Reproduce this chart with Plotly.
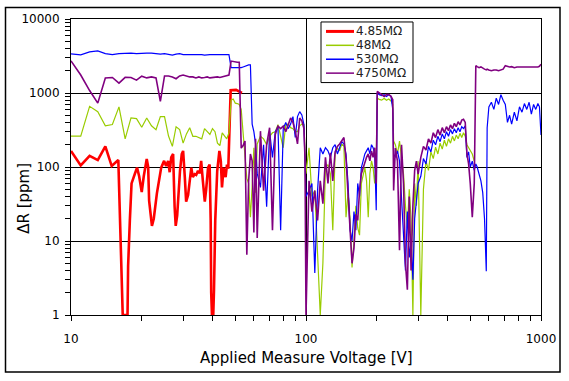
import plotly.graph_objects as go

# ---------------- data ----------------
series_names = ["4.85MΩ", "48MΩ", "530MΩ", "4750MΩ"]
series_colors = ["#FF0000", "#99CC00", "#0000FF", "#800080"]

# voltages of the 4.85 MOhm run
volt_485 = [10, 11, 12, 13, 14, 14.9, 15.9, 16.2, 16.4, 16.6, 17.4, 17.5, 17.8, 18.1, 18.7,
            19.1, 19.5, 20.0, 20.4, 21.0, 21.3, 21.5, 22.1, 22.5, 23.2, 23.6, 24.2, 24.9, 25.4,
            25.9, 26.3, 26.7, 27.2, 27.6, 27.9, 28.3, 28.7, 29.1, 29.6, 30.0, 30.5, 30.9, 31.5,
            32.0, 32.5, 33.0, 33.6, 34.1, 34.7, 35.3, 35.8, 36.4, 37.1, 37.6, 38.3, 38.9, 39.3,
            39.5, 39.8, 40.3, 40.6, 41.1, 41.9, 42.8, 43.4, 43.9, 44.6, 45.5, 46.1, 46.7, 47.2,
            47.8, 50.4, 53.4]
dr_485 = [165, 105, 141, 124, 190, 103, 124, 19, 3.8, 1, 1, 4.6, 19, 60, 81,
          98, 75, 46, 75, 128, 100, 35, 16, 20, 44, 65, 98, 121, 103,
          121, 85, 135, 150, 29, 16, 22, 53, 89, 150, 165, 73, 34, 42,
          60, 98, 73, 80, 78, 89, 82, 121, 65, 34, 50, 98, 108, 19,
          2.0, 1, 1, 2.2, 19, 89, 165, 120, 53, 98, 73, 108, 95, 250,
          1090, 1100, 1000]

# voltages shared by the 48 / 530 / 4750 MOhm runs
volt = [10, 11, 12, 13, 14, 15, 16, 17, 18, 19, 20, 21, 22, 23, 24, 25, 26, 27, 28, 29,
        30, 31, 32, 33, 34, 35, 36, 37, 38, 39, 40, 41, 42, 43, 44, 45, 46, 47,
        48, 49, 50, 51, 52, 53, 54, 55, 56, 57, 58, 59, 60, 61,
        62, 64, 66, 68, 70, 72, 74, 76, 78, 80, 82, 84, 86, 88, 90, 92, 94, 96, 98, 99, 100,
        103, 106, 109, 112, 115, 118, 121, 124, 127, 130, 133, 136, 139, 142, 145, 148, 151,
        154, 157, 160, 163, 166, 169, 172, 175, 178, 181, 184, 187, 190, 193, 196, 199,
        201, 205, 210, 215, 220, 225, 230, 234, 236, 240, 245, 250, 255, 260, 265, 270, 275,
        280, 285, 290, 295, 300, 308, 316, 324, 332, 340, 348, 356, 364, 372, 380, 388, 396,
        404, 412, 420, 428, 436, 444, 452, 460, 468, 476, 484, 492, 500,
        510, 520, 528, 535, 545, 555, 565, 575, 585, 590, 600, 615, 630, 645, 660, 675, 690,
        705, 720, 735, 750, 770, 790, 810, 830, 850, 870, 890, 910, 930, 950, 970, 985, 1000]

dr_48 = [262, 262, 660, 560, 360, 375, 650, 240, 460, 450,
         345, 460, 360, 320, 480, 480, 262, 190, 350, 320,
         210, 280, 340, 260, 260, 250, 240, 330, 300, 275,
         330, 300, 210, 195, 290, 260, 240, 290,
         800, 830, 730, 720, 700, 600, 262, 120, 70, 60, 21, 55, 182, 45,
         205, 260, 240, 200, 260, 290, 300, 374, 250, 182, 374, 380, 340, 330, 300, 300,
         360, 380, 374, 182, 81,
         182, 40, 48, 6, 1, 5, 98, 108, 81, 14, 150, 180, 165, 205, 190, 21, 45, 20, 4.4, 10,
         30, 15, 12, 60, 81, 98, 65, 21, 81, 121, 98, 60, 135,
         850, 820, 800, 850, 800, 830, 780, 700, 224, 200, 150, 224, 120, 80, 30, 15, 50, 20,
         1, 60, 30, 120, 1, 50, 120, 90, 160, 130, 185, 150, 210, 175, 230, 190, 240, 210,
         260, 225, 270, 240, 285, 250, 290, 260, 200, 180, 165,
         150, 120]

dr_530 = [3370, 3270, 3600, 3700, 3400, 3300, 3400, 3450, 3450, 3400,
          3450, 3450, 3450, 3400, 3350, 3400, 3300, 3250, 3350, 3400,
          3300, 3300, 3350, 3300, 3300, 3300, 3300, 3250, 3300, 3300,
          3300, 3300, 3250, 3300, 3300, 3300, 3300, 3300,
          2200, 2200, 2150, 2200, 2200, 2200, 2250, 2300, 2400, 2400, 2400, 380, 300, 205,
          82, 53, 200, 29, 305, 135, 300, 350, 14, 330, 400, 330, 380, 480, 250, 480,
          560, 505, 374, 135, 40,
          48, 60, 3.7, 48, 182, 150, 182, 165, 135, 182, 200, 150, 182, 220, 205, 150, 60,
          14, 10, 25, 14, 60, 40, 98, 121, 150, 165, 182, 150, 200, 182, 150, 26,
          1000, 950, 920, 950, 900, 950, 900, 600, 150, 135, 165, 120, 40, 12, 4, 25, 6,
          10, 3, 20, 40, 60, 75, 130, 110, 190, 160, 230, 200, 260, 220, 280, 240, 300,
          260, 320, 280, 330, 290, 340, 300, 350, 330, 360, 135, 160, 100,
          120, 90, 110, 100, 80, 65, 45, 20, 3.9, 340, 650, 750, 600, 850, 700, 950, 800,
          700, 400, 500, 380, 550, 420, 650, 550, 720, 600, 750, 520, 700, 600, 720, 650, 270]

dr_4750 = [2720, 1750, 1080, 730, 1600, 1620, 1360, 1630, 1620, 1490,
           1690, 1600, 1650, 1600, 770, 1700, 1700, 1650, 1560, 1700,
           1750, 1700, 1650, 1650, 1600, 1650, 1600, 1620, 1650, 1600,
           1620, 1650, 1650, 1620, 1650, 1680, 1700, 1750,
           2700, 2650, 2600, 2600, 2600, 180, 195, 224, 6.5, 65, 150, 121, 13, 240,
           11, 305, 48, 200, 340, 14, 275, 356, 330, 356, 300, 374, 460, 400, 305, 205,
           460, 420, 330, 135, 1,
           65, 25, 48, 19, 65, 32, 135, 60, 155, 65, 160, 190, 205, 230, 250, 130, 40,
           15, 5, 8, 23, 19, 48, 81, 98, 121, 135, 150, 121, 165, 135, 182, 60,
           1050, 1000, 930, 900, 950, 950, 900, 810, 48, 180, 120, 7.5, 200, 60, 5, 2.2, 40,
           4, 30, 90, 120, 80, 135, 190, 170, 240, 210, 290, 250, 320, 270, 340, 290, 350,
           310, 370, 330, 390, 350, 410, 370, 430, 440, 400, 150, 110, 60,
           21, 60, 2340, 2270, 2200, 2250, 2150, 2100, 2050, 2100, 2050, 2000, 2050, 2050,
           2000, 2050, 2100, 2340, 2300, 2250, 2270, 2200, 2250, 2250, 2200, 2250, 2200,
           2230, 2200, 2250, 2200, 2250, 2300, 2450]

x_tick_vals = [10, 100, 1000]
y_tick_vals = [1, 10, 100, 1000, 10000]
x_title = "Applied Measure Voltage [V]"
y_title = "ΔR [ppm]"

# ---------------- layout helpers (pixel -> paper) ----------------
W, H = 569, 381
L, R, T, B = 71, 541, 17, 315


def px(x):
    return (x - L) / (R - L)


def py(y):
    return (B - y) / (B - T)


FONT = "DejaVu Sans"

fig = go.Figure()
traces = [
    (volt_485, dr_485, 2.6),
    (volt[:len(dr_48)], dr_48, 1.2),
    (volt, dr_530, 1.2),
    (volt, dr_4750, 1.6),
]
for (xs, ys, w), name, col in zip(traces, series_names, series_colors):
    fig.add_trace(go.Scatter(x=xs, y=ys, mode="lines", name=name,
                             line=dict(color=col, width=w), showlegend=False))

x_minor = [m * 10 ** k for k in (1, 2) for m in range(2, 10)]
y_minor = [m * 10 ** k for k in range(4) for m in range(2, 10)]

fig.update_layout(
    width=W, height=H,
    margin=dict(l=L, r=W - R, t=T, b=H - B, pad=0),
    paper_bgcolor="white", plot_bgcolor="white",
    font=dict(family=FONT, size=12, color="black"),
    showlegend=False,
)
fig.update_xaxes(
    type="log", range=[1, 3],
    tickvals=x_tick_vals, ticktext=[str(v) for v in x_tick_vals],
    showgrid=True, gridcolor="black", gridwidth=1,
    showline=True, linecolor="black", linewidth=1, mirror=True,
    ticks="outside", ticklen=5, tickcolor="black", ticklabelstandoff=8,
    minor=dict(tickvals=x_minor, ticks="outside", ticklen=5, tickcolor="black", showgrid=False),
    zeroline=False,
)
fig.update_yaxes(
    type="log", range=[0, 4],
    tickvals=y_tick_vals, ticktext=[str(v) for v in y_tick_vals],
    showgrid=True, gridcolor="black", gridwidth=1,
    showline=True, linecolor="black", linewidth=1, mirror=True,
    ticks="outside", ticklen=5, tickcolor="black", ticklabelstandoff=3,
    minor=dict(tickvals=y_minor, ticks="outside", ticklen=5, tickcolor="black", showgrid=False),
    zeroline=False,
)

shapes = []
annotations = []
# outer chart frame
shapes.append(dict(type="rect", xref="paper", yref="paper",
                   x0=px(5.5), x1=px(560), y0=py(372.5), y1=py(5.5),
                   line=dict(color="black", width=1.5), fillcolor="rgba(0,0,0,0)", layer="above"))
# legend box
shapes.append(dict(type="rect", xref="paper", yref="paper",
                   x0=px(321), x1=px(413), y0=py(81), y1=py(20),
                   line=dict(color="black", width=1), fillcolor="white", layer="above"))
rows = [29.5, 43.5, 57.5, 71.5]
lw = [3, 1.5, 1.5, 1.5]
for name, col, ry, w in zip(series_names, series_colors, rows, lw):
    shapes.append(dict(type="line", xref="paper", yref="paper",
                       x0=px(326), x1=px(354), y0=py(ry), y1=py(ry),
                       line=dict(color=col, width=w), layer="above"))
    annotations.append(dict(xref="paper", yref="paper", x=px(355), y=py(ry),
                            xanchor="left", yanchor="middle", text=name, showarrow=False,
                            borderpad=0,
                            font=dict(family=FONT, size=12, color="#222222")))

annotations.append(dict(xref="paper", yref="paper", x=px(306), y=py(358),
                        xanchor="center", yanchor="middle", text=x_title, showarrow=False,
                        font=dict(family=FONT, size=15, color="black")))
annotations.append(dict(xref="paper", yref="paper", x=px(24), y=py(198),
                        xanchor="center", yanchor="middle", text=y_title, showarrow=False,
                        textangle=-90, font=dict(family=FONT, size=15, color="black")))

fig.update_layout(shapes=shapes, annotations=annotations)
fig.write_html("out.html", config={"displayModeBar": False})

# remove the browser's default page margin so the figure sits at the window origin
with open("out.html", "r", encoding="utf-8") as f:
    page = f.read()
page = page.replace("<head>", "<head><style>html,body{margin:0;padding:0;overflow:hidden;}</style>", 1)
with open("out.html", "w", encoding="utf-8") as f:
    f.write(page)
